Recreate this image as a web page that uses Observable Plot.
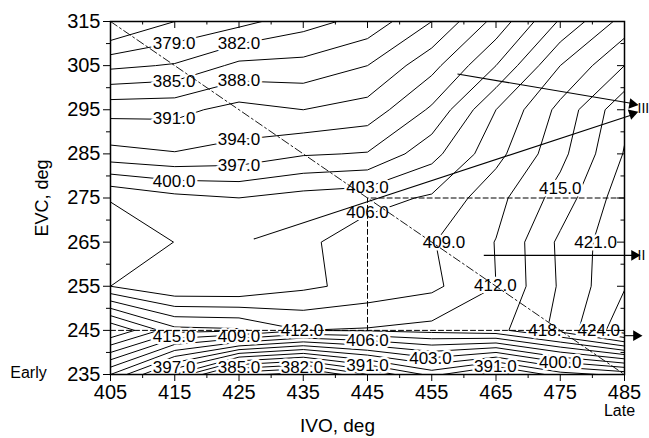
<!DOCTYPE html>
<html>
<head>
<meta charset="utf-8">
<script src="https://cdn.jsdelivr.net/npm/d3@7"></script>
<script src="https://cdn.jsdelivr.net/npm/@observablehq/plot@0.6"></script>
<style>
  html, body { margin: 0; padding: 0; background: #fff; }
  svg { display: block; }
</style>
</head>
<body>
<div id="chart"></div>
<script>
// Grid of the response surface: IVO (x) by EVC (y), one array per EVC row
const ivo = [405, 415, 425, 435, 445, 455, 465, 475, 485];
const evc = [235, 245, 255, 265, 275, 285, 295, 305, 315];
const z235 = [406.0, 394.0, 380.0, 377.5, 385.0, 392.0, 386.0, 392.6, 395.0];
const z245 = [424.0, 416.0, 415.5, 412.0, 412.3, 413.0, 414.0, 419.0, 426.0];
const z255 = [406.0, 403.1, 403.1, 405.4, 407.0, 408.3, 412.0, 418.4, 423.8];
const z265 = [407.0, 405.98, 405.0, 405.3, 407.8, 408.8, 412.1, 418.6, 423.3];
const z275 = [405.9, 403.9, 403.02, 404.2, 404.9, 406.4, 411.0, 416.3, 422.8];
const z285 = [395.0, 394.2, 394.9, 396.7, 397.2, 402.0, 408.0, 414.1, 421.2];
const z295 = [390.0, 390.1, 392.1, 391.0, 392.2, 397.5, 406.0, 412.9, 420.2];
const z305 = [381.3, 382.3, 385.8, 386.0, 388.0, 393.0, 400.0, 409.0, 415.0];
const z315 = [372.0, 376.0, 378.0, 380.8, 383.1, 388.0, 395.0, 403.4, 410.2];
const levels = [376, 379, 382, 385, 388, 391, 394, 397, 400, 403, 406, 409, 412, 415, 418, 421, 424];

// Contour labels
const labelText = ["379.0","382.0","385.0","388.0","391.0","394.0","397.0","400.0","403.0","406.0","409.0","412.0","415.0","421.0","418.","424.0","415.0","409.0","412.0","406.0","397.0","385.0","382.0","391.0","403.0","391.0","400.0"];
const labelX = [414.9, 425.0, 414.9, 425.0, 414.9, 425.0, 425.0, 414.9, 445.0, 445.0, 456.9, 464.9, 475.0, 480.5, 472.6, 481.0, 414.9, 425.0, 434.8, 445.0, 414.9, 425.0, 434.8, 445.0, 454.8, 464.9, 475.0];
const labelY = [310.1, 310.1, 301.4, 301.6, 293.0, 288.3, 282.4, 278.8, 277.4, 271.8, 265.0, 255.2, 277.2, 265.0, 245.0, 245.0, 243.5, 243.5, 245.0, 242.7, 236.5, 236.5, 236.5, 237.0, 238.7, 236.7, 237.8];

// Annotations
const diagX = [405, 485], diagY = [315, 235];
const dashH = {x: [405, 485], y: [245, 245]};
const dashBox = {x: [445, 445, 485], y: [245, 275, 275]};
const arrowX1 = [427.3, 459.0, 463.1, 485.0];
const arrowY1 = [265.7, 303.1, 262.0, 243.8];
const arrowX2 = [486.7, 486.7, 487.0, 487.3];
const arrowY2 = [294.1, 296.3, 262.0, 243.8];
const romanText = ["III", "II"];
const romanY = [295.2, 262.0];

const xMajor = d3.range(405, 486, 10), xMinor = d3.range(410, 485, 10);
const yMajor = d3.range(235, 316, 10), yMinor = d3.range(240, 315, 10);

const W = 649, H = 438, mL = 110, mR = 25, mT = 21, mB = 64;
const frameW = W - mL - mR, frameH = H - mT - mB;
const kx = frameW / (ivo.at(-1) - ivo[0]);
const ky = frameH / (evc.at(-1) - evc[0]);
const stepX = ivo[1] - ivo[0], stepY = evc[1] - evc[0];
const cells = [z235, z245, z255, z265, z275, z285, z295, z305, z315].flat();

const labels = labelText.map((t, i) => ({t, x: labelX[i], y: labelY[i]}));
const arrows = arrowX1.map((x1, i) => {
  const x2 = arrowX2[i], y1 = arrowY1[i], y2 = arrowY2[i];
  const ang = Math.atan2(-(y2 - y1) * ky, (x2 - x1) * kx) * 180 / Math.PI;
  return {x1, y1, x2, y2, rot: 90 + ang};
});
const font = "'Liberation Sans', Arial, Helvetica, sans-serif";
const blank = () => "";
const majorLen = 7, minorLen = 3.5;

const plot = Plot.plot({
  width: W, height: H,
  marginLeft: mL, marginRight: mR, marginTop: mT, marginBottom: mB,
  x: {domain: [ivo[0], ivo.at(-1)]},
  y: {domain: [evc[0], evc.at(-1)]},
  style: {fontFamily: font, fontSize: "17px", color: "black", background: "white"},
  marks: [
    Plot.contour(cells, {
      width: ivo.length, height: evc.length,
      x1: ivo[0] - stepX / 2, x2: ivo.at(-1) + stepX / 2,
      y1: evc[0] - stepY / 2, y2: evc.at(-1) + stepY / 2,
      thresholds: levels, stroke: "black", fill: "none", strokeWidth: 1, clip: true
    }),
    Plot.text(labels, {x: "x", y: "y", text: "t", fontSize: 17, fill: "black",
      stroke: "white", strokeWidth: 5, paintOrder: "stroke"}),
    Plot.line(diagX.map((x, i) => ({x, y: diagY[i]})), {x: "x", y: "y", stroke: "black",
      strokeWidth: 0.9, strokeDasharray: "8,3,2,3"}),
    Plot.line(dashH.x.map((x, i) => ({x, y: dashH.y[i]})), {x: "x", y: "y", stroke: "black",
      strokeWidth: 1, strokeDasharray: "5,3"}),
    Plot.line(dashBox.x.map((x, i) => ({x, y: dashBox.y[i]})), {x: "x", y: "y", stroke: "black",
      strokeWidth: 1, strokeDasharray: "5,3"}),
    Plot.link(arrows, {x1: "x1", y1: "y1", x2: "x2", y2: "y2", stroke: "black", strokeWidth: 1.1}),
    Plot.dot(arrows, {x: "x2", y: "y2", symbol: "triangle", r: 4, fill: "black", stroke: "none",
      rotate: "rot", dx: -3}),
    Plot.text(romanText, {x: ivo.at(-1), y: (d, i) => romanY[i], text: d => d, dx: 13,
      textAnchor: "start", fontSize: 14}),
    Plot.frame({stroke: "black", strokeWidth: 1.5}),
    // bottom axis (outward ticks)
    Plot.axisX({anchor: "bottom", ticks: xMajor, tickSize: majorLen, tickPadding: 3, fontSize: 20, label: null}),
    Plot.axisX({anchor: "bottom", ticks: xMinor, tickSize: minorLen + 0.5, tickFormat: blank, label: null}),
    // top mirror ticks (inward)
    Plot.tickX(xMajor, {x: d => d, insetBottom: frameH - majorLen, stroke: "black"}),
    Plot.tickX(xMinor, {x: d => d, insetBottom: frameH - minorLen, stroke: "black"}),
    // left axis (outward ticks)
    Plot.axisY({anchor: "left", ticks: yMajor, tickSize: majorLen, tickPadding: 3, fontSize: 20, label: null}),
    Plot.axisY({anchor: "left", ticks: yMinor, tickSize: minorLen + 0.5, tickFormat: blank, label: null}),
    // right mirror ticks (inward)
    Plot.tickY(yMajor, {y: d => d, insetLeft: frameW - majorLen, stroke: "black"}),
    Plot.tickY(yMinor, {y: d => d, insetLeft: frameW - minorLen, stroke: "black"}),
    // axis titles and notes
    Plot.text(["IVO, deg"], {frameAnchor: "bottom", dx: -30, dy: 51, fontSize: 19, textAnchor: "middle", lineAnchor: "middle"}),
    Plot.text(["EVC, deg"], {frameAnchor: "left", dx: -68, rotate: -90, fontSize: 18, textAnchor: "middle", lineAnchor: "middle"}),
    Plot.text(["Early"], {frameAnchor: "bottom-left", dx: -82, dy: -2, fontSize: 16, textAnchor: "middle", lineAnchor: "middle"}),
    Plot.text(["Late"], {frameAnchor: "bottom-right", dx: -5, dy: 36, fontSize: 16, textAnchor: "middle", lineAnchor: "middle"})
  ]
});
document.getElementById("chart").appendChild(plot);
</script>
</body>
</html>
